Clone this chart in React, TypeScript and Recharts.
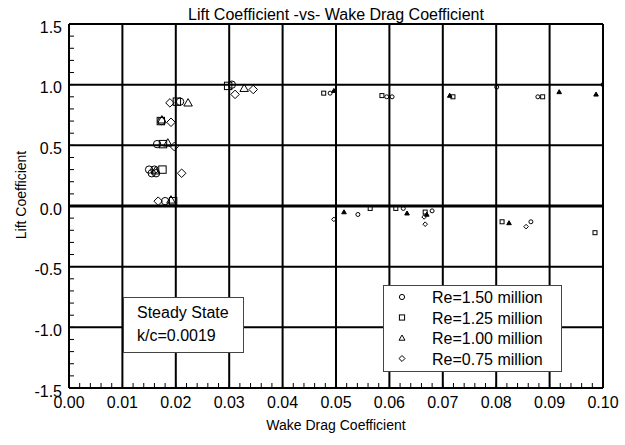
import { ScatterChart, Scatter, XAxis, YAxis, CartesianGrid, ReferenceLine } from "recharts";

const FONT = "Arial, 'Liberation Sans', sans-serif";

// Re = 1.50 million (circles)
const re150Cd = [0.0305, 0.0208, 0.0173, 0.0165, 0.015, 0.0155, 0.016, 0.0163, 0.018, 0.0489, 0.0595, 0.0605, 0.0801, 0.0878, 0.1, 0.0541, 0.0626, 0.068, 0.0865];
const re150Cl = [1.0, 0.86, 0.7, 0.51, 0.3, 0.27, 0.3, 0.27, 0.04, 0.93, 0.9, 0.9, 0.98, 0.9, 1.0, -0.07, -0.02, -0.04, -0.13];

// Re = 1.25 million (squares)
const re125Cd = [0.0298, 0.0202, 0.0172, 0.0176, 0.0175, 0.0195, 0.0477, 0.0586, 0.0719, 0.0887, 0.0564, 0.0612, 0.0667, 0.0811, 0.0985];
const re125Cl = [0.99, 0.86, 0.7, 0.51, 0.3, 0.04, 0.93, 0.91, 0.9, 0.9, -0.02, -0.02, -0.05, -0.13, -0.22];

// Re = 1.00 million (triangles)
const re100Cd = [0.0328, 0.0223, 0.0174, 0.0185, 0.0162, 0.0191, 0.0496, 0.0713, 0.0918, 0.0987, 0.0515, 0.0633, 0.067, 0.0824];
const re100Cl = [0.97, 0.85, 0.71, 0.52, 0.29, 0.05, 0.95, 0.91, 0.94, 0.92, -0.05, -0.06, -0.07, -0.14];

// Re = 0.75 million (diamonds)
const re075Cd = [0.0311, 0.0345, 0.0189, 0.0191, 0.0197, 0.0211, 0.0167, 0.0496, 0.0665, 0.0667, 0.0856];
const re075Cl = [0.92, 0.96, 0.85, 0.69, 0.49, 0.27, 0.04, -0.11, -0.09, -0.15, -0.17];

const xMajor = [0, 0.01, 0.02, 0.03, 0.04, 0.05, 0.06, 0.07, 0.08, 0.09, 0.1];
const yMajor = [-1.5, -1.0, -0.5, 0, 0.5, 1.0, 1.5];
const xMinor = Array.from({ length: 51 }, (_, i) => +(i * 0.002).toFixed(3));
const yMinor = Array.from({ length: 31 }, (_, i) => +(-1.5 + i * 0.1).toFixed(1));

const legendLabels = ["Re=1.50 million", "Re=1.25 million", "Re=1.00 million", "Re=0.75 million"];

type Kind = "circle" | "square" | "triangle" | "diamond";
const kinds: Kind[] = ["circle", "square", "triangle", "diamond"];

const toPoints = (cd: number[], cl: number[]) => cd.map((x, i) => ({ cd: x, cl: cl[i] }));

const series = [
  toPoints(re150Cd, re150Cl),
  toPoints(re125Cd, re125Cl),
  toPoints(re100Cd, re100Cl),
  toPoints(re075Cd, re075Cl),
];

function drawMarker(kind: Kind, cx: number, cy: number, s: number, fill = "none") {
  const common = { fill, stroke: "#000", strokeWidth: 1 };
  switch (kind) {
    case "circle":
      return <circle cx={cx} cy={cy} r={s} {...common} />;
    case "square":
      return <rect x={cx - s} y={cy - s} width={2 * s} height={2 * s} {...common} />;
    case "triangle":
      return (
        <polygon
          points={`${cx},${cy - s * 1.15} ${cx + s * 1.15},${cy + s * 0.85} ${cx - s * 1.15},${cy + s * 0.85}`}
          {...common}
        />
      );
    default:
      return (
        <polygon
          points={`${cx},${cy - s * 1.15} ${cx + s * 1.15},${cy} ${cx},${cy + s * 1.15} ${cx - s * 1.15},${cy}`}
          {...common}
        />
      );
  }
}

// post-stall points are drawn with small symbols in the original
const markerShape = (kind: Kind) => (props: any) => {
  const { cx, cy, payload } = props;
  const small = payload.cd > 0.045;
  const fill = small && kind === "triangle" ? "#000" : "none";
  return drawMarker(kind, cx, cy, small ? 2 : 3.7, fill);
};

const xFmt = (v: number) => (Math.round(v * 1000) % 10 === 0 ? v.toFixed(2) : "");
const yFmt = (v: number) => (Math.round(v * 10) % 5 === 0 ? v.toFixed(1) : "");

export default function App() {
  return (
    <div style={{ position: "absolute", left: 0, top: 0, width: 625, height: 445, background: "#fff" }}>
      <ScatterChart width={625} height={445} margin={{ top: 24, right: 22, bottom: 27, left: 0 }}>
        <CartesianGrid
          stroke="#000"
          strokeWidth={2}
          horizontalValues={yMajor}
          verticalValues={xMajor}
        />
        <XAxis
          type="number"
          dataKey="cd"
          domain={[0, 0.1]}
          ticks={xMinor}
          interval={0}
          allowDataOverflow
          height={30}
          tickSize={-5}
          tickMargin={14}
          tickFormatter={xFmt}
          axisLine={{ stroke: "#000", strokeWidth: 2 }}
          tickLine={{ stroke: "#000" }}
          tick={{ fill: "#000", fontSize: 16, fontFamily: FONT }}
        />
        <YAxis
          type="number"
          dataKey="cl"
          domain={[-1.5, 1.5]}
          ticks={yMinor}
          interval={0}
          allowDataOverflow
          width={69}
          tickSize={-5}
          tickMargin={12}
          tickFormatter={yFmt}
          axisLine={{ stroke: "#000", strokeWidth: 2 }}
          tickLine={{ stroke: "#000" }}
          tick={{ fill: "#000", fontSize: 16, fontFamily: FONT, dy: 3 }}
        />
        <ReferenceLine y={0} stroke="#000" strokeWidth={3} />
        {series.map((pts, i) => (
          <Scatter
            key={kinds[i]}
            name={legendLabels[i]}
            data={pts}
            shape={markerShape(kinds[i])}
            isAnimationActive={false}
          />
        ))}
      </ScatterChart>

      <svg
        width={625}
        height={445}
        style={{ position: "absolute", left: 0, top: 0, pointerEvents: "none" }}
        fontFamily={FONT}
      >
        <text x={336} y={20} fontSize={16} textAnchor="middle">
          Lift Coefficient -vs- Wake Drag Coefficient
        </text>
        <text x={336} y={430} fontSize={14} textAnchor="middle">
          Wake Drag Coefficient
        </text>
        <text x={26} y={195} fontSize={14} textAnchor="middle" transform="rotate(-90 26 195)">
          Lift Coefficient
        </text>

        <rect x={123.5} y={297.5} width={120} height={55} fill="#fff" stroke="#444" />
        <text x={137} y={318} fontSize={16}>Steady State</text>
        <text x={137} y={341} fontSize={16}>k/c=0.0019</text>

        <rect x={383.5} y={285.5} width={178} height={86} fill="#fff" stroke="#444" />
        {legendLabels.map((label, i) => {
          const cy = 297 + i * 20.5;
          return (
            <g key={label}>
              {drawMarker(kinds[i], 402, cy, 2.6)}
              <text x={432} y={cy + 6} fontSize={16}>
                {label}
              </text>
            </g>
          );
        })}
      </svg>
    </div>
  );
}
